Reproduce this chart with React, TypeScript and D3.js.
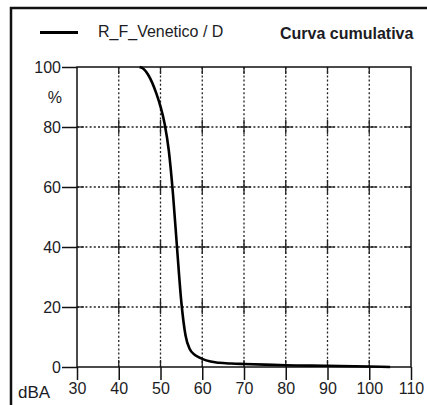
import { useEffect, useRef } from 'react';
import { select, scaleLinear, line, curveMonotoneX, axisLeft, axisBottom } from 'd3';

// data
const dbaTicks = [30, 40, 50, 60, 70, 80, 90, 100, 110];
const pctTicks = [0, 20, 40, 60, 80, 100];
const curveDba = [45, 46, 47, 48, 49, 50, 51, 52, 53, 54, 55, 56, 57, 58, 59, 60, 62, 64, 67, 70, 75, 80, 90, 100, 105];
const curvePct = [100, 99.3, 97.5, 94.8, 91.2, 86.8, 81, 72, 57.5, 39, 21.5, 10.5, 6, 4.3, 3.4, 2.7, 1.8, 1.4, 1.15, 1.0, 0.8, 0.6, 0.4, 0.15, 0];
const seriesName = 'R_F_Venetico / D';
const title = 'Curva cumulativa';

const render = (el: SVGSVGElement) => {
  const svg = select(el);
  svg.selectAll('*').remove();
  const font = "'Liberation Sans', Arial, sans-serif";
  const ink = '#1c1c24';

  const xScale = scaleLinear().domain([30, 110]).range([77, 411]);
  const yScale = scaleLinear().domain([0, 100]).range([367, 67]);

  // outer frame (runs off the picture on the right/bottom)
  svg.append('rect')
    .attr('x', 11).attr('y', 8).attr('width', 1000).attr('height', 1000)
    .attr('fill', 'none').attr('stroke', '#111').attr('stroke-width', 2.5);

  // grid: dotted lines with solid crosses at every intersection
  const grid = svg.append('g').attr('stroke', '#222').attr('stroke-width', 1.3);
  dbaTicks.slice(1, -1).forEach((v) => {
    grid.append('line')
      .attr('x1', xScale(v)).attr('x2', xScale(v))
      .attr('y1', yScale(100)).attr('y2', yScale(0))
      .attr('stroke-dasharray', '2 2.2');
  });
  pctTicks.slice(1, -1).forEach((v) => {
    grid.append('line')
      .attr('x1', xScale(30)).attr('x2', xScale(110))
      .attr('y1', yScale(v)).attr('y2', yScale(v))
      .attr('stroke-dasharray', '2 2.2');
  });
  const arm = 7;
  dbaTicks.forEach((dv) => {
    pctTicks.forEach((pv) => {
      const cx = xScale(dv);
      const cy = yScale(pv);
      if (pv > 0 && pv < 100) {
        grid.append('line')
          .attr('x1', Math.max(cx - arm, xScale(30))).attr('x2', Math.min(cx + arm, xScale(110)))
          .attr('y1', cy).attr('y2', cy);
      }
      if (dv > 30 && dv < 110) {
        grid.append('line')
          .attr('x1', cx).attr('x2', cx)
          .attr('y1', Math.max(cy - arm, yScale(100))).attr('y2', Math.min(cy + arm, yScale(0)));
      }
    });
  });

  // plot frame
  svg.append('rect')
    .attr('x', xScale(30)).attr('y', yScale(100))
    .attr('width', xScale(110) - xScale(30)).attr('height', yScale(0) - yScale(100))
    .attr('fill', 'none').attr('stroke', '#111').attr('stroke-width', 1.5);

  // axes
  const yAxis = svg.append('g')
    .attr('transform', `translate(${xScale(30)},0)`)
    .call(axisLeft(yScale).tickValues(pctTicks).tickSize(15).tickPadding(1));
  const xAxis = svg.append('g')
    .attr('transform', `translate(0,${yScale(0)})`)
    .call(axisBottom(xScale).tickValues(dbaTicks).tickSize(13).tickPadding(3));
  [yAxis, xAxis].forEach((a) => {
    a.select('.domain').remove();
    a.selectAll('line').attr('stroke', '#111').attr('stroke-width', 1.5);
    a.selectAll('text').attr('fill', ink).style('font-family', font).style('font-size', '16px');
  });

  svg.append('text')
    .attr('x', 62).attr('y', 102.5).attr('text-anchor', 'end')
    .attr('fill', ink).style('font-family', font).style('font-size', '16px')
    .text('%');
  svg.append('text')
    .attr('x', 18).attr('y', 398)
    .attr('fill', ink).style('font-family', font).style('font-size', '17px')
    .text('dBA');

  // cumulative curve
  const pts = curveDba.map((d, i) => [d, curvePct[i]] as [number, number]);
  const path = line<[number, number]>()
    .x((d) => xScale(d[0]))
    .y((d) => yScale(d[1]))
    .curve(curveMonotoneX);
  svg.append('path')
    .attr('d', path(pts))
    .attr('fill', 'none').attr('stroke', '#000').attr('stroke-width', 2.6);

  // legend + title
  svg.append('line')
    .attr('x1', 40).attr('x2', 78).attr('y1', 32.5).attr('y2', 32.5)
    .attr('stroke', '#000').attr('stroke-width', 3);
  svg.append('text')
    .attr('x', 98).attr('y', 37)
    .attr('fill', ink).style('font-family', font).style('font-size', '16px')
    .text(seriesName);
  svg.append('text')
    .attr('x', 280).attr('y', 39)
    .attr('fill', ink).style('font-family', font).style('font-size', '16px').style('font-weight', 'bold')
    .text(title);
};

export default function App() {
  const ref = useRef<SVGSVGElement>(null);
  useEffect(() => {
    if (ref.current) render(ref.current);
  }, []);
  return (
    <svg
      ref={ref}
      width={427}
      height={405}
      style={{ position: 'absolute', left: 0, top: 0, background: '#fff' }}
    />
  );
}
